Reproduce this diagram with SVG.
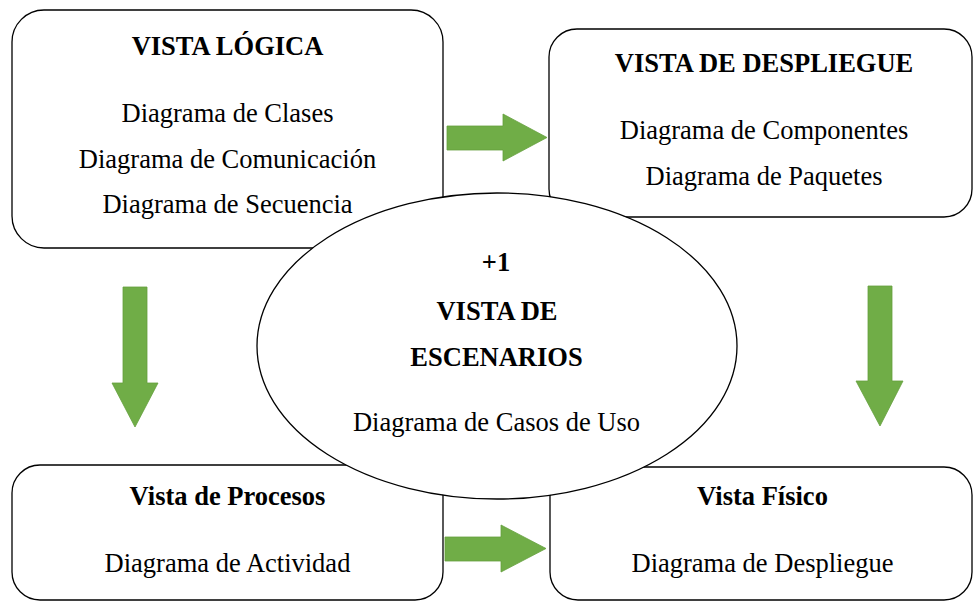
<svg xmlns="http://www.w3.org/2000/svg" width="974" height="601" viewBox="0 0 974 601">
<style>
.box{fill:#fff;stroke:#000;stroke-width:1.3}
.arr{fill:#70AD47;stroke:#64A03E;stroke-width:0.8}
text{font-family:"Times New Roman","Liberation Serif",Tinos,"DejaVu Serif",serif;font-size:26.5px;fill:#000;text-anchor:middle}
.b{font-weight:bold}
</style>
<rect x="0" y="0" width="974" height="601" fill="#fff"/>
<g id="logica">
<rect class="box" x="12" y="10" width="431" height="238" rx="32" ry="32"/>
<text class="b" x="227.5" y="55">VISTA LÓGICA</text>
<text x="227.5" y="122">Diagrama de Clases</text>
<text x="227.5" y="167.5">Diagrama de Comunicación</text>
<text x="227.5" y="213">Diagrama de Secuencia</text>
</g>
<g id="despliegue">
<rect class="box" x="549" y="29" width="423" height="188" rx="28" ry="28"/>
<text class="b" x="764" y="72">VISTA DE DESPLIEGUE</text>
<text x="764" y="138.5">Diagrama de Componentes</text>
<text x="764" y="185">Diagrama de Paquetes</text>
</g>
<g id="procesos">
<rect class="box" x="12" y="465" width="431" height="135" rx="28" ry="28"/>
<text class="b" x="227.5" y="505">Vista de Procesos</text>
<text x="227.5" y="572">Diagrama de Actividad</text>
</g>
<g id="fisico">
<rect class="box" x="550" y="467" width="422" height="133" rx="28" ry="28"/>
<text class="b" x="762.5" y="505">Vista Físico</text>
<text x="762.5" y="572">Diagrama de Despliegue</text>
</g>
<g id="escenarios">
<ellipse class="box" cx="497" cy="346" rx="240" ry="153"/>
<text class="b" x="496" y="271">+1</text>
<text class="b" x="497" y="319.5">VISTA DE</text>
<text class="b" x="496.5" y="366">ESCENARIOS</text>
<text x="496.5" y="431">Diagrama de Casos de Uso</text>
</g>
<g id="connectors">
<polygon class="arr" points="447,126 503,126 503,114 547,137.5 503,161 503,150 447,150"/>
<polygon class="arr" points="445,537 501,537 501,525 546,548.5 501,572 501,561 445,561"/>
<polygon class="arr" points="123,287 147,287 147,383 158,383 135,427 112,383 123,383"/>
<polygon class="arr" points="868,286 892,286 892,381 903,381 880,426 856,381 868,381"/>
</g>
</svg>
